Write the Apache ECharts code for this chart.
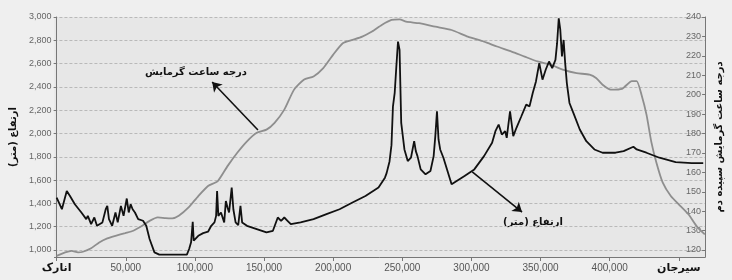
<!DOCTYPE html>
<html>
<head>
<meta charset="utf-8">
<script src="https://cdn.jsdelivr.net/npm/echarts@6/dist/echarts.min.js"></script>
<style>
  html, body { margin: 0; padding: 0; background: #efefef; }
  #chart { width: 732px; height: 280px; }
</style>
</head>
<body>
<div id="chart"></div>
<script>
// [distance along route (m), elevation (m)]
const elevProfile = [
  [0, 1450], [3805, 1350], [7328, 1507], [9653, 1464], [13176, 1393], [17897, 1322], [21420, 1265], [22547, 1293],
  [24943, 1222], [27268, 1279], [29171, 1208], [33116, 1237], [35512, 1350], [36639, 1379], [37837, 1265], [40162, 1208],
  [42558, 1322], [44178, 1237], [46504, 1379], [48406, 1293], [50731, 1442], [52140, 1322], [53550, 1393], [54959, 1350],
  [56650, 1322], [58975, 1265], [62498, 1251], [64823, 1208], [67219, 1094], [70742, 980], [74265, 960], [94207, 960],
  [95827, 1009], [97236, 1066], [98434, 1242], [99139, 1080], [102450, 1122], [105973, 1145], [109496, 1157], [111821, 1208],
  [114147, 1237], [115345, 1293], [116049, 1507], [116965, 1293], [118867, 1322], [121192, 1237], [122390, 1421], [123588, 1365],
  [124715, 1322], [126618, 1536], [127815, 1350], [129436, 1237], [131338, 1214], [132958, 1379], [134156, 1237], [137679, 1208],
  [144725, 1180], [151771, 1151], [156421, 1165], [159944, 1279], [162340, 1251], [164665, 1279], [166990, 1251], [169386, 1222],
  [176432, 1237], [185803, 1265], [195175, 1308], [204616, 1350], [213987, 1408], [223359, 1464], [232800, 1536], [237451, 1621],
  [238650, 1660], [240760, 1760], [242170, 1900], [243230, 2230], [244500, 2348], [245700, 2575], [246890, 2789], [248020, 2718],
  [249220, 2091], [251540, 1863], [253940, 1763], [256260, 1792], [258590, 1934], [259780, 1849], [260980, 1806], [263300, 1692],
  [266830, 1650], [270350, 1678], [272680, 1806], [273880, 1977], [275080, 2191], [276200, 1949], [277400, 1863], [279730, 1792],
  [285650, 1564], [295010, 1635], [302060, 1692], [309110, 1806], [314950, 1920], [317350, 2020], [319680, 2077], [322000, 1991],
  [324400, 2020], [325530, 1963], [327920, 2191], [330250, 1977], [332570, 2049], [336100, 2148], [339620, 2248], [342020, 2233],
  [344340, 2348], [346670, 2447], [349060, 2604], [351390, 2462], [353710, 2547], [356110, 2618], [358430, 2561], [360760, 2632],
  [361960, 2775], [363150, 2989], [364280, 2889], [365480, 2661], [366680, 2803], [367800, 2604], [369000, 2433], [370900, 2262],
  [373720, 2177], [378370, 2034], [383090, 1934], [388940, 1863], [394860, 1835], [404230, 1835], [410080, 1849], [417130, 1886],
  [419530, 1863], [426570, 1835], [435950, 1792], [447710, 1754], [459400, 1745], [467640, 1745]
];

// [distance along route (m), dawn heating degree hours]
const heatProfile = [
  [0, 117], [6130, 118.8], [10851, 119.6], [15502, 118.8], [19025, 119.1], [24943, 120.9], [30791, 123.9], [36639, 126],
  [42558, 127.3], [49604, 128.7], [55453, 129.9], [61301, 132.2], [67219, 135], [73067, 136.8], [78915, 136.4], [83636, 136.3],
  [88357, 137.6], [95404, 141.9], [102450, 147.8], [109496, 153], [116542, 155.5], [123588, 163.2], [130634, 170.1], [137679, 176],
  [144725, 180.4], [151771, 182], [157620, 185.5], [164665, 192.3], [171711, 202.6], [178757, 207.7], [185803, 209.4], [192849, 213.7],
  [199895, 220.5], [206941, 226.5], [213987, 228.2], [221033, 229.9], [228079, 232.5], [235125, 235.9], [242172, 238.5], [248019, 238.8],
  [252740, 237.6], [262111, 236.8], [273879, 235], [285646, 233.3], [297343, 229.9], [309110, 227.3], [318481, 224.8], [329050, 222.2],
  [338492, 219.6], [347863, 217.1], [357234, 215.4], [366676, 212.8], [376047, 211.1], [385418, 210.3], [390139, 208.6], [394859, 205.1],
  [400707, 202.6], [408951, 203], [416000, 207], [419500, 207], [423000, 200], [426650, 189.6], [430100, 175.7], [433700, 165.2],
  [438300, 154.8], [444200, 147.8], [451200, 142.6], [457100, 138.3], [463000, 132.2], [468800, 128]
];

// axis ticks
const distTicks = [0, 50000, 100000, 150000, 200000, 250000, 300000, 350000, 400000, 450000];
const elevTicks = [1000, 1200, 1400, 1600, 1800, 2000, 2200, 2400, 2600, 2800, 3000];
const heatTicks = [120, 130, 140, 150, 160, 170, 180, 190, 200, 210, 220, 230, 240];
const startName = 'انارک';
const endName = 'سیرجان';

const numFont = "'Liberation Sans Narrow', 'Liberation Sans', Arial, sans-serif";
const faFont = "'DejaVu Sans', sans-serif";

const fmt = v => v.toLocaleString('en-US');

const myChart = echarts.init(document.getElementById('chart'));
const option = {
  backgroundColor: '#efefef',
  animation: false,
  grid: {
    left: 49,
    right: 15,
    top: 17,
    bottom: 23,
    show: true,
    backgroundColor: '#e7e7e7',
    borderWidth: 0
  },
  xAxis: {
    type: 'value',
    min: -1600,
    max: 469000,
    axisLine: { show: true, lineStyle: { color: '#777', width: 1 } },
    axisTick: { show: true, length: 4, lineStyle: { color: '#777' }, customValues: distTicks },
    axisLabel: {
      customValues: distTicks,
      margin: 6,
      fontFamily: numFont,
      fontSize: 10,
      color: '#555',
      formatter: v => {
        if (v === 0) return '{fa|' + startName + '}';
        if (v === 450000) return '{fa|' + endName + '}';
        return fmt(v);
      },
      rich: {
        fa: { fontFamily: faFont, fontSize: 11, fontWeight: 'bold', color: '#111' }
      }
    },
    splitLine: { show: false }
  },
  yAxis: [
    {
      type: 'value',
      min: 940,
      max: 3000,
      name: 'ارتفاع (متر)',
      nameLocation: 'middle',
      nameGap: 34,
      nameRotate: 90,
      nameTextStyle: { fontFamily: faFont, fontSize: 10, fontWeight: 'bold', color: '#111' },
      axisLine: { show: true, lineStyle: { color: '#777' } },
      axisTick: { show: true, length: 3, lineStyle: { color: '#777' }, customValues: elevTicks },
      axisLabel: { customValues: elevTicks, margin: 3, fontFamily: numFont, fontSize: 9, color: '#666', formatter: fmt },
      splitLine: { show: true, lineStyle: { color: '#b9b9b9', type: [3, 2], width: 1 } }
    },
    {
      type: 'value',
      min: 116.4,
      max: 240,
      position: 'right',
      name: 'درجه ساعت گرمایش سپیده دم',
      nameLocation: 'middle',
      nameGap: 8,
      nameRotate: 90,
      nameTextStyle: { fontFamily: faFont, fontSize: 10, fontWeight: 'bold', color: '#111' },
      axisLine: { show: true, lineStyle: { color: '#777' } },
      axisTick: { show: true, inside: true, length: 3, lineStyle: { color: '#777' }, customValues: heatTicks },
      axisLabel: { inside: true, customValues: heatTicks, margin: 4, fontFamily: numFont, fontSize: 9, color: '#666' },
      splitLine: { show: false }
    }
  ],
  series: [
    {
      name: 'heat',
      type: 'line',
      yAxisIndex: 1,
      showSymbol: false,
      smooth: 0.2,
      lineStyle: { color: '#8e8e8e', width: 1.8 },
      data: heatProfile,
      markLine: {
        silent: true,
        symbol: ['none', 'arrow'],
        symbolSize: 9,
        lineStyle: { color: '#111', width: 1.6, type: 'solid' },
        label: { show: false },
        data: [[{ coord: [145600, 181.8] }, { coord: [112500, 206.5] }]]
      }
    },
    {
      name: 'elevation',
      type: 'line',
      yAxisIndex: 0,
      showSymbol: false,
      lineStyle: { color: '#111', width: 1.8 },
      data: elevProfile,
      markLine: {
        silent: true,
        symbol: ['none', 'arrow'],
        symbolSize: 9,
        lineStyle: { color: '#111', width: 1.6, type: 'solid' },
        label: { show: false },
        data: [[{ coord: [300600, 1670] }, { coord: [336600, 1326] }]]
      }
    }
  ],
  graphic: [
    {
      type: 'text', x: 196, y: 72,
      style: { text: 'درجه ساعت گرمایش', font: 'bold 10px ' + faFont, fill: '#111', align: 'center', verticalAlign: 'middle' }
    },
    {
      type: 'text', x: 533, y: 222,
      style: { text: 'ارتفاع (متر)', font: 'bold 10px ' + faFont, fill: '#111', align: 'center', verticalAlign: 'middle' }
    }
  ]
};
myChart.setOption(option);
</script>
</body>
</html>
